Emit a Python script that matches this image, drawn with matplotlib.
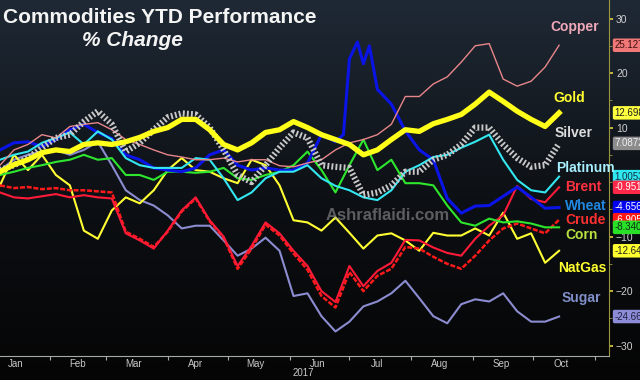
import numpy as np
import matplotlib
matplotlib.use('Agg')
import matplotlib.pyplot as plt
from matplotlib.colors import LinearSegmentedColormap
from datetime import date

plt.rcParams['font.family'] = ['Liberation Sans', 'DejaVu Sans']

# weekly readings, day of year 2017, % change YTD
days = np.arange(6, 287, 7)

gold = [1.9, 3.2, 4.1, 5.4, 5.9, 5.6, 6.9, 7.2, 6.9, 7.4, 8.2, 9.3, 10.0, 11.5, 11.5,
        9.6, 6.9, 5.9, 7.2, 9.1, 9.6, 11.1, 10.0, 8.7, 7.8, 6.9, 5.0, 5.9, 7.8, 9.6,
        9.3, 10.7, 11.5, 12.4, 14.3, 16.5, 14.8, 13.0, 11.5, 10.2, 12.7]
copper = [3.1, 5.9, 6.9, 8.7, 8.1, 10.2, 10.6, 10.9, 9.6, 7.8, 6.9, 5.9, 5.0, 4.6, 4.1,
          4.1, 4.4, 3.7, 4.1, 4.1, 3.0, 2.8, 3.5, 4.1, 5.9, 7.2, 7.8, 8.7, 10.6, 15.7,
          15.7, 18.0, 19.3, 22.0, 25.0, 25.4, 18.9, 17.6, 18.5, 21.1, 25.1]
silver = [2.2, 3.1, 4.4, 6.3, 8.1, 8.7, 11.1, 13.0, 10.6, 5.6, 7.2, 9.6, 11.9, 12.6, 12.4,
          10.0, 5.9, 1.3, 0.0, 3.1, 6.3, 9.1, 8.1, 3.1, 2.8, 2.6, -2.4, -1.9, -0.6, 1.9,
          1.9, 4.1, 5.0, 6.9, 10.0, 10.0, 6.9, 4.4, 2.8, 3.1, 7.1]
platinum = [4.1, 5.0, 5.6, 7.2, 8.1, 9.1, 6.9, 9.3, 7.8, 4.4, 3.1, 2.6, 2.6, 2.6, 4.4,
            4.1, 0.7, -3.3, -1.9, 0.7, 1.9, 1.9, 3.1, 0.7, -0.7, -1.5, -2.8, -3.3, -1.5, 1.9,
            3.1, 4.6, 5.0, 6.3, 7.4, 8.7, 4.1, 0.4, -1.5, -1.9, 1.0]
brent = [-1.9, -2.8, -3.0, -2.6, -2.2, -2.8, -2.4, -2.8, -3.0, -9.4, -10.7, -12.2, -8.9, -5.2, -2.8,
         -7.0, -10.0, -15.4, -11.7, -7.4, -9.4, -12.6, -15.4, -20.0, -22.0, -15.4, -19.1, -16.3, -14.8, -10.6,
         -10.7, -12.0, -13.0, -13.5, -10.4, -8.0, -6.1, -0.7, -3.1, -3.7, -0.95]
crude = [-0.6, -1.1, -0.9, -1.3, -1.1, -1.5, -1.5, -1.7, -1.9, -9.1, -10.4, -11.9, -9.1, -5.4, -3.0,
         -7.2, -10.2, -15.9, -12.2, -7.8, -9.8, -13.1, -16.1, -20.9, -23.0, -16.5, -20.0, -17.2, -15.9, -11.9,
         -12.2, -13.7, -15.0, -15.9, -13.5, -10.7, -8.5, -7.6, -8.5, -9.4, -6.9]
corn = [1.3, 1.9, 2.6, 3.1, 3.7, 4.1, 5.0, 4.1, 4.4, 1.3, 1.3, 0.4, 1.9, 1.9, 1.7,
        1.9, 2.6, 0.7, 0.4, 1.3, 1.9, 3.1, 5.6, 2.2, -1.9, 3.1, 7.8, 2.2, 4.1, -0.2,
        -0.2, -0.6, -4.3, -7.4, -8.0, -6.7, -7.4, -7.2, -7.6, -8.3, -8.3]
natgas = [-0.6, 5.0, 2.2, 5.0, 1.3, -0.6, -8.9, -10.4, -5.2, -2.8, -3.9, -1.5, 2.2, 4.4, 2.2,
          1.9, 0.7, -0.2, 4.1, 3.1, -0.6, -7.0, -7.4, -8.9, -6.5, -9.3, -12.2, -9.8, -9.4, -10.7,
          -12.6, -9.3, -9.8, -9.8, -8.5, -9.8, -5.6, -10.4, -9.4, -14.8, -12.6]
sugar = [2.2, 4.1, 5.0, 5.6, 5.9, 5.0, 5.9, 7.4, 3.1, -1.5, -3.3, -4.3, -6.1, -8.5, -8.0,
         -8.0, -10.7, -13.5, -12.2, -10.2, -12.6, -20.9, -20.4, -24.6, -27.4, -25.6, -22.8, -21.9, -20.4, -18.1,
         -21.3, -24.6, -25.9, -22.4, -21.5, -21.9, -20.4, -23.7, -25.6, -25.6, -24.66]

# wheat has extra points around the July spike
wheat_days = list(range(6, 175, 7)) + [178, 181, 185, 188, 191] + list(range(195, 287, 7))
wheat = [5.9, 7.2, 7.4, 6.5, 7.8, 9.6, 10.6, 9.1, 8.0, 5.0, 4.1, 2.6, 2.2, 1.9, 2.6,
         5.0, 5.9, 3.1, 2.2, 2.6, 2.2, 2.2, 3.5, 8.7, 7.4,
         8.7, 22.6, 25.7, 21.7, 25.0,
         17.0, 14.3, 9.4, 5.9, 4.1, -3.0, -5.7, -4.4, -4.3, -2.6, -0.9, -2.8, -4.8, -4.66]

names = ['Copper', 'Gold', 'Silver', 'Platinum', 'Brent', 'Wheat', 'Crude', 'Corn', 'NatGas', 'Sugar']
last_txt = ['25.1271', '12.6983', '7.0872', '1.0053', '-0.9517', '-4.6561', '-6.9051',
            '-8.3404', '-12.642', '-24.660']
months = ['Jan', 'Feb', 'Mar', 'Apr', 'May', 'Jun', 'Jul', 'Aug', 'Sep', 'Oct']

series = {'Copper': (days, copper), 'Gold': (days, gold), 'Silver': (days, silver),
          'Platinum': (days, platinum), 'Brent': (days, brent), 'Wheat': (wheat_days, wheat),
          'Crude': (days, crude), 'Corn': (days, corn), 'NatGas': (days, natgas), 'Sugar': (days, sugar)}

line_col = {'Copper': '#e8868a', 'Gold': '#ffff1a', 'Silver': '#c8c8c8', 'Platinum': '#33e6f0',
            'Brent': '#ff1a38', 'Wheat': '#0a14e6', 'Crude': '#ff1a1a', 'Corn': '#2ee62e',
            'NatGas': '#ffff33', 'Sugar': '#8c8cd0'}
name_col = {'Copper': '#f0a8b8', 'Gold': '#ffff30', 'Silver': '#dcdcdc', 'Platinum': '#a8f0ff',
            'Brent': '#ff3040', 'Wheat': '#2088e0', 'Crude': '#ff3030', 'Corn': '#b8e040',
            'NatGas': '#ffff30', 'Sugar': '#8090c8'}
box_col = {'Copper': '#f07878', 'Gold': '#ffff40', 'Silver': '#8c8c8c', 'Platinum': '#30e8f0',
           'Brent': '#ff2848', 'Wheat': '#0000f0', 'Crude': '#ff1818', 'Corn': '#28e028',
           'NatGas': '#ffff30', 'Sugar': '#8c8cd8'}
box_txt = {'Copper': '#401010', 'Gold': '#202020', 'Silver': '#f0f0f0', 'Platinum': '#103040',
           'Brent': '#ffffff', 'Wheat': '#ffffff', 'Crude': '#ffffff', 'Corn': '#103010',
           'NatGas': '#202020', 'Sugar': '#202040'}
# name label spots in pixels (left, centre)
name_pos = {'Copper': (550, 27), 'Gold': (553, 98), 'Silver': (555, 133), 'Platinum': (556, 168),
            'Brent': (565, 187), 'Wheat': (565, 206), 'Crude': (565, 220), 'Corn': (565, 235),
            'NatGas': (558, 268), 'Sugar': (562, 298)}

W, H = 640, 380
fig = plt.figure(figsize=(6.4, 3.8), dpi=100)
fig.patch.set_facecolor('#060606')

bg = fig.add_axes([0, 0, 1, 1], zorder=-5)
cmap = LinearSegmentedColormap.from_list('bg', [(0, '#050505'), (0.45, '#0c0f13'), (1, '#1f2935')])
bg.imshow(np.linspace(0, 1, 256).reshape(-1, 1), cmap=cmap, aspect='auto',
          extent=[0, 1, 0, 1], origin='lower')
bg.axis('off')

ax = fig.add_axes([0, 1 - 356 / H, 609 / W, 356 / H])
ax.set_facecolor('none')

order = ['Sugar', 'NatGas', 'Crude', 'Brent', 'Corn', 'Wheat', 'Platinum', 'Copper', 'Silver', 'Gold']
for nm in order:
    x, y = series[nm]
    c = line_col[nm]
    if nm == 'Gold':
        ax.plot(x, y, color=c, lw=3.8, solid_joinstyle='round')
    elif nm == 'Silver':
        ax.plot(x, y, color=c, lw=4.5, dashes=(0.3, 0.35), dash_capstyle='butt')
    elif nm == 'Crude':
        ax.plot(x, y, color=c, lw=1.8, dashes=(2.0, 0.7))
    elif nm == 'Wheat':
        ax.plot(x, y, color=c, lw=2.2)
    elif nm == 'Copper':
        ax.plot(x, y, color=c, lw=1.0)
    else:
        ax.plot(x, y, color=c, lw=1.5)

ax.set_xlim(6, 311)
ax.set_ylim(-31.9, 33.4)

# axis styling
for s in ['left', 'top']:
    ax.spines[s].set_visible(False)
ax.spines['right'].set_color('#9c9640')
ax.spines['bottom'].set_color('#a8a8a8')
ax.yaxis.tick_right()
ax.set_yticks([-30, -20, -10, 10, 20, 30])
ax.set_yticks(np.arange(-30, 31, 5), minor=True)
ax.tick_params(axis='y', which='major', length=3, width=1.2, color='#e0d040',
               labelcolor='#d0d0d0', labelsize=7.5, pad=2)
ax.tick_params(axis='y', which='minor', length=2, color='#9c9640')

jan1 = date(2017, 1, 1)
starts = [(date(2017, m, 1) - jan1).days for m in range(2, 12)]
mids = [(date(2017, m, 15) - jan1).days for m in range(1, 11)]
ax.set_xticks(starts)
ax.set_xticklabels([])
ax.set_xticks(mids, minor=True)
ax.set_xticklabels(months, minor=True)
ax.tick_params(axis='x', which='major', length=3, color='#a8a8a8')
ax.tick_params(axis='x', which='minor', length=0, labelcolor='#c8c8c8', labelsize=7, pad=2)
ax.text((date(2017, 6, 8) - jan1).days, -0.048, '2017', transform=ax.get_xaxis_transform(),
        ha='center', va='center', color='#c8c8c8', fontsize=7)

# titles
fig.text(3 / W, 1 - 23 / H, 'Commodities YTD Performance', color='#f4f4f4', fontsize=15,
         fontweight='bold', va='baseline')
fig.text(82 / W, 1 - 46 / H, '% Change', color='#f4f4f4', fontsize=15,
         fontweight='bold', style='italic', va='baseline')
fig.text(388 / W, 1 - 216 / H, 'Ashraflaidi.com', color='#a0a0a0', alpha=0.55,
         fontsize=12, fontweight='bold', ha='center', va='center', zorder=10)

# series names and last-value boxes
for i, nm in enumerate(names):
    px, py = name_pos[nm]
    fig.text(px / W, 1 - py / H, nm, color=name_col[nm], fontsize=10, fontweight='bold',
             va='center', zorder=10)
    yv = series[nm][1][-1]
    ax.annotate(last_txt[i], xy=(1, yv), xycoords=('axes fraction', 'data'),
                xytext=(4, 0), textcoords='offset points', ha='left', va='center',
                fontsize=7, color=box_txt[nm], annotation_clip=False, zorder=20 + i,
                bbox=dict(boxstyle='round,pad=0.18', fc=box_col[nm], ec='none'))

fig.savefig('out.png', dpi=100, facecolor=fig.get_facecolor())
